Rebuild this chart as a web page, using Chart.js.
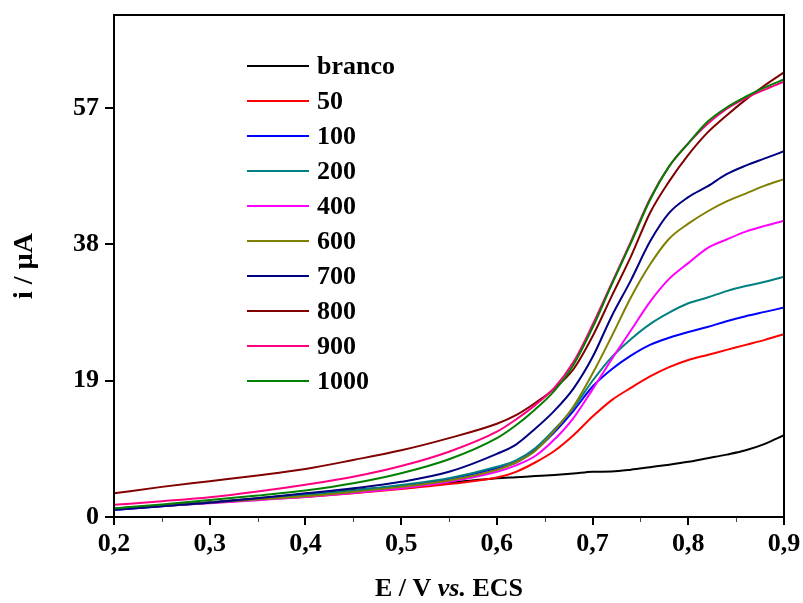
<!DOCTYPE html>
<html><head><meta charset="utf-8">
<script src="https://cdn.jsdelivr.net/npm/chart.js@4.4.0/dist/chart.umd.min.js"></script>
<style>html,body{margin:0;padding:0;background:#fff;}</style>
</head><body>
<canvas id="c" width="803" height="603" style="width:803px;height:603px;display:block"></canvas>
<script>
// ---- data (E / V vs. ECS ; i / µA) ----
const potentials = [0.20,0.25,0.30,0.35,0.40,0.45,0.50,0.55,0.60,0.62,0.64,0.66,0.68,0.70,0.72,0.74,0.76,0.78,0.80,0.82,0.84,0.86,0.88,0.90];
const seriesNames = ["branco","50","100","200","400","600","700","800","900","1000"];
const seriesColors = ["#000000","#FF0000","#0000FF","#008080","#FF00FF","#808000","#000080","#800000","#FF0080","#008000"];
const branco = [1.2,1.6,2.05,2.6,3.2,3.77,4.3,4.8,5.4,5.55,5.7,5.85,6.05,6.3,6.35,6.6,6.95,7.3,7.7,8.2,8.7,9.3,10.2,11.4];
const c50   = [1.1,1.55,2.0,2.4,2.8,3.3,3.9,4.6,5.5,6.3,7.6,9.2,11.4,14.0,16.3,18.0,19.6,20.9,21.9,22.6,23.3,24.0,24.7,25.5];
const c100  = [1.0,1.5,2.0,2.5,3.0,3.6,4.3,5.3,6.8,7.6,9.3,11.8,14.8,18.2,20.6,22.5,24.0,25.0,25.8,26.5,27.3,28.0,28.6,29.2];
const c200  = [1.1,1.55,2.0,2.5,3.07,3.7,4.46,5.4,7.0,7.9,9.6,12.2,15.2,19.0,22.3,24.8,26.9,28.5,29.8,30.6,31.5,32.2,32.8,33.5];
const c400  = [1.2,1.55,1.9,2.35,2.8,3.35,4.0,4.9,6.3,7.2,8.5,10.8,13.8,17.8,22.0,26.0,30.0,33.2,35.4,37.5,38.7,39.8,40.6,41.3];
const c600  = [1.1,1.55,2.0,2.45,2.9,3.5,4.2,5.1,6.6,7.6,9.2,12.0,15.4,20.0,25.2,30.6,35.2,38.8,40.9,42.6,44.0,45.1,46.2,47.1];
const c700  = [1.0,1.5,2.0,2.6,3.3,4.0,4.9,6.3,8.8,10.1,12.3,14.8,17.9,22.3,28.0,33.0,38.4,42.4,44.6,46.1,47.8,49.0,50.0,51.0];
const c800  = [3.3,4.2,5.0,5.8,6.7,7.95,9.3,11.0,13.0,14.2,15.9,17.9,20.6,25.2,30.8,36.3,42.4,46.8,50.5,53.6,56.0,58.2,60.2,62.0];
const c900  = [1.7,2.2,2.75,3.55,4.5,5.6,7.1,9.1,11.9,13.6,15.6,18.0,21.6,26.8,32.6,38.4,44.4,48.9,52.1,54.8,56.9,58.4,59.6,60.7];
const c1000 = [1.2,1.75,2.37,3.0,3.7,4.7,6.1,8.05,11.0,12.8,15.0,17.6,21.2,26.4,32.4,38.2,44.2,48.9,52.1,55.1,57.1,58.6,59.9,61.0];
const seriesValues = [branco,c50,c100,c200,c400,c600,c700,c800,c900,c1000];
const xMajorTicks = [0.2,0.3,0.4,0.5,0.6,0.7,0.8,0.9];
const xMinorTicks = [0.25,0.35,0.45,0.55,0.65,0.75,0.85];
const yTicks = [0,19,38,57];

const FONT = "'Liberation Serif','Times New Roman',serif";

const datasets = seriesValues.map((vals, i) => ({
  label: seriesNames[i],
  data: potentials.map((x, k) => ({x: x, y: vals[k]})),
  borderColor: seriesColors[i],
  backgroundColor: seriesColors[i],
  borderWidth: 2,
  pointRadius: 0,
  cubicInterpolationMode: 'monotone',
  fill: false,
  order: seriesNames.length - i
}));

const extras = {
  id: 'extras',
  afterDraw(chart) {
    const ctx = chart.ctx, a = chart.chartArea;
    const xs = chart.scales.x;
    ctx.save();
    // minor ticks
    ctx.strokeStyle = '#444'; ctx.lineWidth = 1;
    xMinorTicks.forEach(v => {
      const px = Math.round(xs.getPixelForValue(v)) + 0.5;
      ctx.beginPath(); ctx.moveTo(px, a.bottom); ctx.lineTo(px, a.bottom + 5); ctx.stroke();
    });
    // frame
    ctx.strokeStyle = '#000'; ctx.lineWidth = 2;
    ctx.strokeRect(a.left, a.top, a.right - a.left, a.bottom - a.top);
    // legend
    ctx.font = "bold 26px " + FONT;
    ctx.textBaseline = 'middle'; ctx.textAlign = 'left';
    seriesNames.forEach((n, i) => {
      const y = 66 + 35 * i;
      ctx.strokeStyle = seriesColors[i]; ctx.lineWidth = 2;
      ctx.beginPath(); ctx.moveTo(247, y); ctx.lineTo(309, y); ctx.stroke();
      ctx.fillStyle = '#000';
      ctx.fillText(n, 317, y + 1);
    });
    // x title with italic "vs."
    const parts = [["E / V ", "bold"], ["vs.", "italic bold"], [" ECS", "bold"]];
    let total = 0;
    parts.forEach(p => { ctx.font = p[1] + " 26px " + FONT; total += ctx.measureText(p[0]).width; });
    let x0 = (a.left + a.right) / 2 - total / 2;
    ctx.textBaseline = 'alphabetic';
    parts.forEach(p => { ctx.font = p[1] + " 26px " + FONT; ctx.fillText(p[0], x0, 596); x0 += ctx.measureText(p[0]).width; });
    ctx.restore();
  }
};

new Chart(document.getElementById('c'), {
  type: 'line',
  data: { datasets },
  options: {
    responsive: false,
    animation: false,
    devicePixelRatio: 1,
    layout: { padding: { top: 15, right: 19, left: 0, bottom: 0 } },
    plugins: { legend: { display: false }, tooltip: { enabled: false } },
    scales: {
      x: {
        type: 'linear', min: 0.2, max: 0.9,
        afterFit(s) { s.height = 86; s.paddingLeft = 0; s.paddingRight = 0; },
        afterBuildTicks(s) { s.ticks = xMajorTicks.map(v => ({value: v})); },
        ticks: {
          color: '#000', padding: 4,
          font: { family: FONT, size: 26, weight: 'bold' },
          callback: v => Number(v).toFixed(1).replace('.', ','),
          maxRotation: 0, autoSkip: false
        },
        grid: { drawOnChartArea: false, drawTicks: true, tickLength: 8, tickColor: '#000', lineWidth: 2 },
        border: { display: true, color: '#000', width: 2 }
      },
      y: {
        type: 'linear', min: 0, max: 70,
        afterFit(s) { s.width = 114; s.paddingTop = 0; s.paddingBottom = 0; },
        afterBuildTicks(s) { s.ticks = yTicks.map(v => ({value: v})); },
        ticks: {
          color: '#000', padding: 6,
          font: { family: FONT, size: 26, weight: 'bold' },
          autoSkip: false
        },
        grid: { drawOnChartArea: false, drawTicks: true, tickLength: 9, tickColor: '#000', lineWidth: 2 },
        border: { display: true, color: '#000', width: 2 },
        title: { display: true, text: 'i / µA', color: '#000', padding: { top: 8, bottom: 0 },
                 font: { family: FONT, size: 28, weight: 'bold' } }
      }
    }
  },
  plugins: [extras]
});
</script>
</body></html>
